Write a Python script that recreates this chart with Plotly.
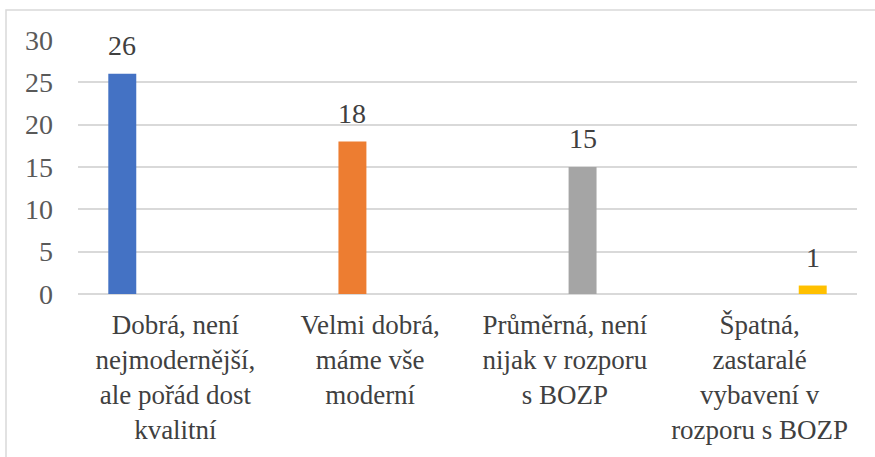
import plotly.graph_objects as go

categories = [
    "Dobrá, není<br>nejmodernější,<br>ale pořád dost<br>kvalitní",
    "Velmi dobrá,<br>máme vše<br>moderní",
    "Průměrná, není<br>nijak v rozporu<br>s BOZP",
    "Špatná,<br>zastaralé<br>vybavení v<br>rozporu s BOZP",
]
values = [26, 18, 15, 1]
colors = ["#4472C4", "#ED7D31", "#A5A5A5", "#FFC000"]
y_ticks = [0, 5, 10, 15, 20, 25, 30]

BARGAP = 0.273
GROUPGAP = 0.21
n = len(categories)
slot = (1 - BARGAP) / n

W, H = 875, 457
ML, MR, MT, MB = 78, 18, 40, 163
FONT = "Liberation Serif, Times New Roman, Times, serif"

fig = go.Figure()
for i, (v, c) in enumerate(zip(values, colors)):
    ys = [v if j == i else None for j in range(n)]
    fig.add_trace(go.Bar(x=categories, y=ys, marker=dict(color=c, line=dict(width=0)),
                         showlegend=False, hoverinfo="skip"))

annotations = []
for i, v in enumerate(values):
    annotations.append(dict(
        x=i + (i - (n - 1) / 2) * slot, y=v, xref="x", yref="y",
        text=str(v), showarrow=False, yanchor="bottom", yshift=11,
        font=dict(family=FONT, size=28, color="#404040"),
    ))

pw = W - ML - MR
ph = H - MT - MB
fig.add_shape(type="rect", xref="paper", yref="paper",
              x0=(6 - ML) / pw, x1=(W + 20 - ML) / pw,
              y0=-(H + 20 - MT - ph) / ph, y1=(H - MB - 10) / ph,
              line=dict(color="#D9D9D9", width=1.5), fillcolor="rgba(0,0,0,0)", layer="below")

fig.update_layout(
    width=W, height=H,
    margin=dict(l=ML, r=MR, t=MT, b=MB),
    barmode="group", bargap=BARGAP, bargroupgap=GROUPGAP,
    plot_bgcolor="white", paper_bgcolor="white",
    font=dict(family=FONT, size=28, color="#404040"),
    annotations=annotations,
    xaxis=dict(showgrid=False, showline=False, ticks="", tickfont=dict(family=FONT, size=27, color="#404040"),
               ticklabelstandoff=12, zeroline=False, automargin=False),
    yaxis=dict(range=[0, 30], tickvals=y_ticks, showgrid=True, gridcolor="#D9D9D9", gridwidth=1.5,
               zeroline=True, zerolinecolor="#D9D9D9", zerolinewidth=1.5, showline=False,
               ticks="", tickfont=dict(family=FONT, size=28, color="#595959"), ticklabelstandoff=24,
               automargin=False),
)

fig.write_html("out.html", config={"displayModeBar": False},
               post_script="document.body.style.margin='0';")
